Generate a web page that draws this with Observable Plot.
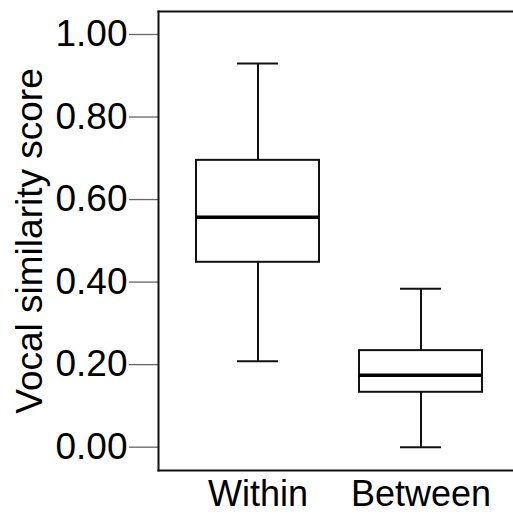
<!DOCTYPE html>
<html>
<head>
<meta charset="utf-8">
<script src="https://cdn.jsdelivr.net/npm/d3@7"></script>
<script src="https://cdn.jsdelivr.net/npm/@observablehq/plot@0.6"></script>
<style>
  html, body { margin: 0; padding: 0; background: #fff; }
</style>
</head>
<body>
<div id="chart"></div>
<script>
const categories = ["Within", "Between"];
const whiskerLow = [0.208, 0.0];
const q1 = [0.448, 0.133];
const median = [0.557, 0.174];
const q3 = [0.695, 0.234];
const whiskerHigh = [0.930, 0.384];
const yTicks = [0, 0.2, 0.4, 0.6, 0.8, 1.0];

const rows = categories.map((g, i) => ({
  group: g, lo: whiskerLow[i], q1: q1[i], med: median[i], q3: q3[i], hi: whiskerHigh[i]
}));

const font = "Liberation Sans, Arial, sans-serif";
const chart = Plot.plot({
  width: 513,
  height: 514,
  marginLeft: 158,
  marginRight: 0,
  marginTop: 11,
  marginBottom: 44,
  style: { fontFamily: font, background: "white" },
  x: { type: "band", domain: categories, paddingInner: 0.245, paddingOuter: 0.2114, align: 0.552 },
  y: { domain: [-0.0565, 1.0557] },
  marks: [
    Plot.axisY({
      ticks: yTicks, tickFormat: d3.format(".2f"), tickSize: 29, tickPadding: 2,
      stroke: "#666", strokeWidth: 1.3, fontSize: 37, fill: "#000",
      label: "Vocal similarity score", labelAnchor: "center", labelArrow: "none", labelOffset: 143
    }),
    Plot.axisX({ tickSize: 0, tickPadding: 10, fontSize: 36, fill: "#000", label: null }),
    Plot.ruleX(rows, { x: "group", y1: "lo", y2: "q1", stroke: "#111", strokeWidth: 2 }),
    Plot.ruleX(rows, { x: "group", y1: "q3", y2: "hi", stroke: "#111", strokeWidth: 2 }),
    Plot.tickY(rows, { x: "group", y: "lo", insetLeft: 41, insetRight: 41, stroke: "#111", strokeWidth: 2 }),
    Plot.tickY(rows, { x: "group", y: "hi", insetLeft: 41, insetRight: 41, stroke: "#111", strokeWidth: 2 }),
    Plot.barY(rows, { x: "group", y1: "q1", y2: "q3", fill: "white", stroke: "#111", strokeWidth: 2 }),
    Plot.tickY(rows, { x: "group", y: "med", stroke: "#000", strokeWidth: 3.5 }),
    Plot.frame({ anchor: "left", stroke: "#111", strokeWidth: 2 }),
    Plot.frame({ anchor: "top", stroke: "#111", strokeWidth: 2 }),
    Plot.frame({ anchor: "bottom", stroke: "#111", strokeWidth: 2 })
  ]
});
document.getElementById("chart").appendChild(chart);
</script>
</body>
</html>
